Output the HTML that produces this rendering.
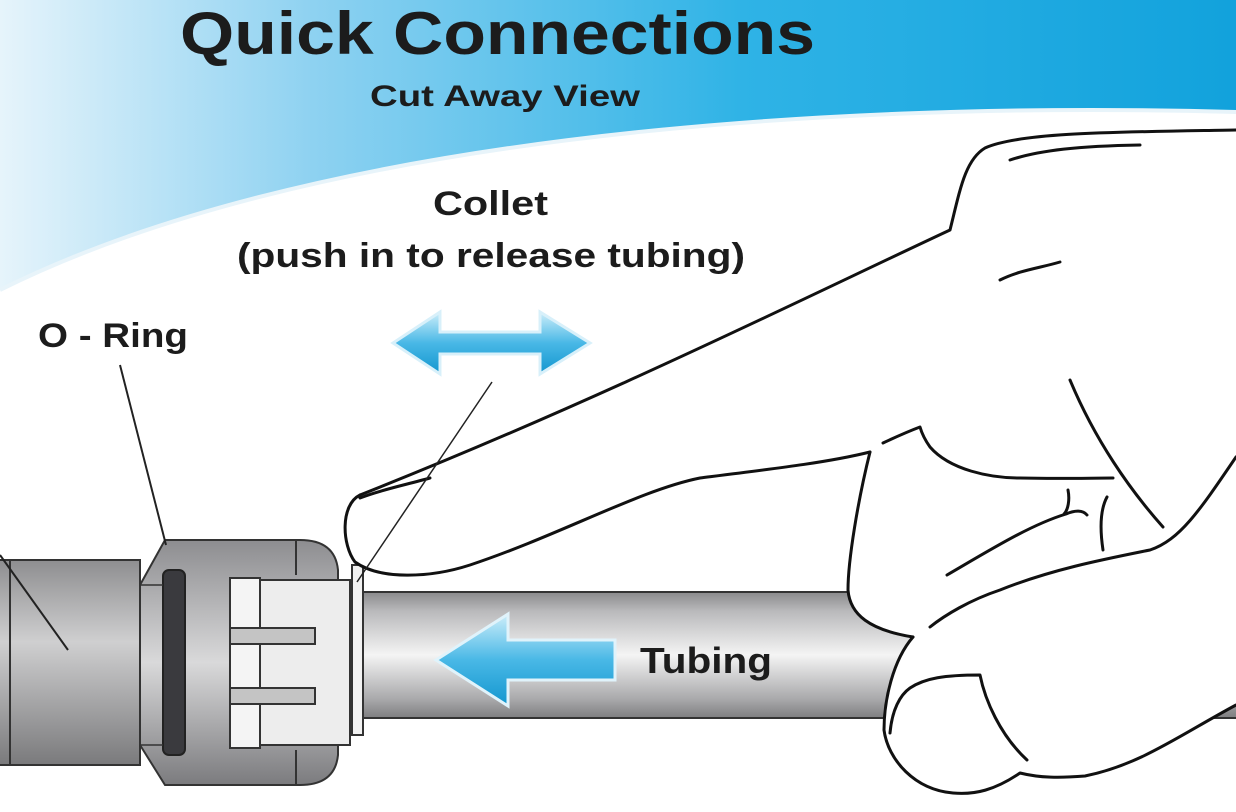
<!DOCTYPE html>
<html><head><meta charset="utf-8"><style>
html,body{margin:0;padding:0;background:#fff;}
svg{display:block}
text{font-family:"Liberation Sans",sans-serif;font-weight:bold;fill:#1c1c1c}
</style></head><body>
<svg width="1236" height="812" viewBox="0 0 1236 812" xmlns="http://www.w3.org/2000/svg">
<defs>
<linearGradient id="sky" x1="0" y1="0" x2="1" y2="0">
<stop offset="0" stop-color="#e6f4fb"/><stop offset="0.25" stop-color="#8fd2f1"/><stop offset="0.6" stop-color="#2fb3e6"/><stop offset="1" stop-color="#12a2dc"/></linearGradient>
<linearGradient id="tube" x1="0" y1="0" x2="0" y2="1">
<stop offset="0" stop-color="#8a8a8c"/><stop offset="0.15" stop-color="#b9b9bb"/><stop offset="0.5" stop-color="#f4f4f4"/><stop offset="0.85" stop-color="#a9a9ab"/><stop offset="1" stop-color="#7e7e80"/></linearGradient>
<linearGradient id="nut" x1="0" y1="0" x2="0" y2="1">
<stop offset="0" stop-color="#8d8d90"/><stop offset="0.5" stop-color="#d9d9da"/><stop offset="1" stop-color="#7b7b7e"/></linearGradient>
<linearGradient id="ar" x1="0" y1="0" x2="0" y2="1">
<stop offset="0" stop-color="#cdeefa"/><stop offset="0.5" stop-color="#49b8e6"/><stop offset="1" stop-color="#1296cf"/></linearGradient>
<linearGradient id="pipe" x1="0" y1="0" x2="0" y2="1">
<stop offset="0" stop-color="#8e8e90"/><stop offset="0.4" stop-color="#cfcfd0"/><stop offset="1" stop-color="#7a7a7c"/></linearGradient>
</defs>
<rect width="1236" height="812" fill="#fff"/>
<path d="M0,0 H1236 V112 C800,100 300,140 0,290 Z" fill="url(#sky)"/>
<path d="M0,290 C300,140 800,100 1236,112" stroke="#e8f4fa" stroke-width="4" fill="none"/>
<text x="180" y="54" font-size="60" textLength="635" lengthAdjust="spacingAndGlyphs">Quick Connections</text>
<text x="370" y="106" font-size="30" textLength="270" lengthAdjust="spacingAndGlyphs">Cut Away View</text>
<text x="433" y="215" font-size="34" textLength="115" lengthAdjust="spacingAndGlyphs">Collet</text>
<text x="237" y="267" font-size="34" textLength="508" lengthAdjust="spacingAndGlyphs">(push in to release tubing)</text>
<text x="38" y="347" font-size="34" textLength="150" lengthAdjust="spacingAndGlyphs">O - Ring</text>
<!-- double arrow -->
<path d="M393,343 L440,312 L440,332 L540,332 L540,312 L590,343 L540,374 L540,354 L440,354 L440,374 Z" fill="url(#ar)" stroke="#d8f0fa" stroke-width="3"/>
<!-- left pipe -->
<rect x="-2" y="560" width="142" height="205" fill="url(#pipe)" stroke="#333" stroke-width="2"/>
<line x1="10" y1="560" x2="10" y2="765" stroke="#333" stroke-width="2"/>
<line x1="0" y1="555" x2="68" y2="650" stroke="#222" stroke-width="2"/>
<!-- nut -->
<path d="M140,585 L165,540 L300,540 Q335,540 338,570 L338,755 Q335,785 300,785 L165,785 L140,745 Z" fill="url(#nut)" stroke="#333" stroke-width="2"/>
<rect x="163" y="570" width="22" height="185" rx="6" fill="#3a3a3e" stroke="#222" stroke-width="2"/>
<line x1="296" y1="540" x2="296" y2="575" stroke="#333" stroke-width="2"/>
<line x1="296" y1="750" x2="296" y2="785" stroke="#333" stroke-width="2"/>
<line x1="140" y1="585" x2="163" y2="585" stroke="#333" stroke-width="1.5"/>
<line x1="140" y1="745" x2="163" y2="745" stroke="#333" stroke-width="1.5"/>
<!-- inner collet -->
<path d="M238,580 L350,580 L350,745 L238,745 Z" fill="#ededed" stroke="#333" stroke-width="2"/>
<rect x="230" y="578" width="30" height="170" fill="#f4f4f4" stroke="#333" stroke-width="2"/>
<rect x="230" y="628" width="85" height="16" fill="#c4c4c4" stroke="#333" stroke-width="2"/>
<rect x="230" y="688" width="85" height="16" fill="#c4c4c4" stroke="#333" stroke-width="2"/>
<!-- tube -->
<rect x="362" y="592" width="880" height="126" fill="url(#tube)" stroke="#333" stroke-width="2"/>
<rect x="352" y="565" width="11" height="170" fill="#f2f2f2" stroke="#333" stroke-width="2"/>
<!-- tube arrow -->
<path d="M436,660 L508,614 L508,640 L615,640 L615,680 L508,680 L508,706 Z" fill="url(#ar)" stroke="#e0f3fb" stroke-width="3"/>
<text x="640" y="673" font-size="36" textLength="132" lengthAdjust="spacingAndGlyphs">Tubing</text>
<!-- hand fill -->
<path d="M870,452 C858,500 848,560 848,590 C850,615 870,630 913,637 C893,660 884,700 884,730 C888,760 915,790 953,793 C975,795 995,790 1020,773 C1040,778 1060,778 1085,776 C1140,765 1180,735 1236,705 L1236,130 C1120,132 1020,132 985,148 C965,160 960,190 950,230 C800,300 600,400 360,495 C340,505 342,545 355,562 C380,580 430,578 470,565 C560,535 640,490 700,478 C780,468 830,462 870,452 Z" fill="#fff"/>
<g fill="none" stroke="#111" stroke-width="3" stroke-linecap="round" stroke-linejoin="round">
<path d="M1236,130 C1120,132 1020,132 985,148 C965,160 960,190 950,230 C800,300 600,400 360,495"/>
<path d="M360,495 C340,505 342,545 355,562 C380,580 430,578 470,565 C560,535 640,490 700,478 C780,468 830,462 870,452"/>
<path d="M360,498 C380,490 405,485 430,478"/>
<!-- second finger front -->
<path d="M870,452 C858,500 848,560 848,590 C850,615 870,630 913,637"/>
<!-- knuckle bump -->
<path d="M883,443 C900,435 912,430 920,427 C922,434 925,440 930,447 C950,470 990,478 1020,478 C1060,479 1090,478 1113,478"/>
<!-- thumb outline -->
<path d="M913,637 C893,660 884,700 884,730 C888,760 915,790 953,793 C975,795 995,790 1020,773 C1040,778 1060,778 1085,776 C1140,765 1180,735 1236,705"/>
<!-- thumb nail -->
<path d="M890,733 C892,710 900,695 910,688 C925,678 945,675 980,675 C985,700 1000,735 1027,760"/>
<!-- right outline -->
<path d="M1236,457 C1200,510 1180,540 1150,550 C1100,560 1050,570 1000,590 C970,600 945,615 930,627"/>
<!-- creases -->
<path d="M1070,380 C1095,440 1130,490 1163,527"/>
<path d="M947,575 C990,550 1030,525 1066,514 C1075,510 1083,510 1087,515"/>
<path d="M1068,490 C1070,500 1068,510 1064,514"/>
<path d="M1107,497 C1100,510 1100,530 1103,550"/>
<path d="M1010,160 C1040,150 1080,146 1140,145"/>
<path d="M1000,280 C1020,270 1040,268 1060,262"/>
</g>
<!-- leaders -->
<line x1="120" y1="365" x2="166" y2="545" stroke="#222" stroke-width="2"/>
<line x1="492" y1="382" x2="357" y2="582" stroke="#222" stroke-width="1.5"/>
</svg>
</body></html>
